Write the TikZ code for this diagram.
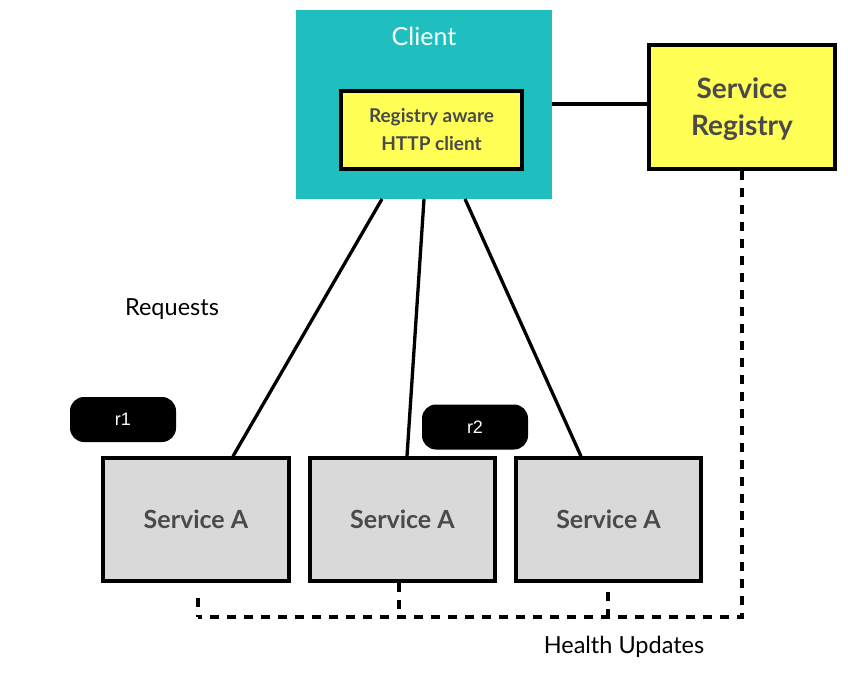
\documentclass[tikz,border=0pt]{standalone}
\usepackage{fontspec}
\setmainfont{Lato}
\newfontfamily\pillfont{Liberation Sans}
\definecolor{teal1}{HTML}{1FBFBF}
\definecolor{yel}{HTML}{FFFF55}
\definecolor{gry}{HTML}{D9D9D9}
\definecolor{txt}{HTML}{4A4A4A}
\begin{document}
\begin{tikzpicture}[x=1pt,y=-1pt,
  box/.style={draw=black,line width=3.5pt,inner sep=0pt},
  conn/.style={line width=3.3pt,black},
  dashline/.style={line width=3.3pt,black,dash pattern=on 9pt off 8pt},
  boldtxt/.style={text=txt,font=\bfseries\fontsize{25}{30}\selectfont,align=center},
  pill/.style={fill=black,rounded corners=14pt,minimum width=106pt,minimum height=45pt,text=white,font=\pillfont\fontsize{18}{21}\selectfont}]
\useasboundingbox (0,0) rectangle (848,676);
\fill[teal1] (296,10) rectangle (552,199);
\node[text=white,font=\fontsize{25}{30}\selectfont] (client) at (424,36) {Client};
\coordinate (cl1) at (382,199);
\coordinate (cl2) at (424,199);
\coordinate (cl3) at (465,199);
\coordinate (clr) at (552,104);
\coordinate (a1) at (233,0);
\coordinate (a2) at (407,0);
\coordinate (a3) at (581,0);
\node[box,fill=yel,minimum width=181pt,minimum height=78pt,text=txt,font=\bfseries\fontsize{19}{28}\selectfont,align=center] (rac) at (431.5,130) {Registry aware\\HTTP client};
\node[box,fill=yel,minimum width=186pt,minimum height=124pt] (reg) at (742,107) {};
\node[boldtxt,font=\bfseries\fontsize{28}{37}\selectfont] (regt) at (742,109.5) {Service\\Registry};
\node[box,fill=gry,minimum width=186pt,minimum height=123pt,boldtxt] (s1) at (196,519.5) {Service A};
\node[box,fill=gry,minimum width=185pt,minimum height=123pt,boldtxt] (s2) at (402.5,519.5) {Service A};
\node[box,fill=gry,minimum width=185pt,minimum height=123pt,boldtxt] (s3) at (608.5,519.5) {Service A};
\draw[conn] (clr) -- (reg.west |- clr);
\draw[conn] (cl1) -- (s1.north -| a1);
\draw[conn] (cl2) -- (s2.north -| a2);
\draw[conn] (cl3) -- (s3.north -| a3);
\node[pill] (r1) at (123,419.5) {r1};
\node[pill] (r2) at (475,427) {r2};
\node[font=\fontsize{23.5}{28}\selectfont,text=black] (req) at (172,309) {Requests};
\node[font=\fontsize{23.5}{28}\selectfont,text=black] (hu) at (624,647) {Health Updates};
\coordinate (c1) at (742,617);
\coordinate (c2) at (198,617);
\coordinate (t1) at (198,598);
\coordinate (t2) at (399,583);
\coordinate (t3) at (608,592);
\draw[dashline] (reg.south) -- (c1) -- (c2);
\draw[dashline] (t1) -- (c2);
\draw[dashline] (t2) -- (t2 |- c1);
\draw[dashline] (t3) -- (t3 |- c1);
\end{tikzpicture}
\end{document}
